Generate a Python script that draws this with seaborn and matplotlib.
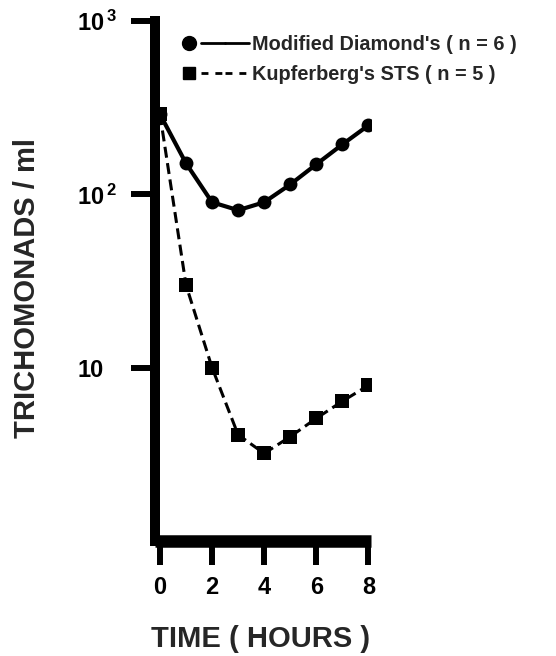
import numpy as np
import pandas as pd
import seaborn as sns
import matplotlib.pyplot as plt
from matplotlib.lines import Line2D
from matplotlib.legend_handler import HandlerTuple

hours = [0, 1, 2, 3, 4, 5, 6, 7, 8]
diamond = [290, 151, 90, 81, 90, 114, 149, 194, 250]
kupferberg = [290, 30, 10, 4.1, 3.2, 4.0, 5.1, 6.4, 7.9]
names = ["Modified Diamond's ( n = 6 )", "Kupferberg's STS ( n = 5 )"]
yticks = [10, 100, 1000]
yticklabels = ["10", r"$\mathbf{10^{\,2}}$", r"$\mathbf{10^{\,3}}$"]
xticks = [0, 2, 4, 6, 8]

sns.set_theme(style="ticks")
plt.rcParams["font.family"] = ["Liberation Sans", "DejaVu Sans"]
plt.rcParams["font.weight"] = "bold"
plt.rcParams["mathtext.fontset"] = "custom"
plt.rcParams["mathtext.bf"] = "Liberation Sans:bold"
plt.rcParams["mathtext.rm"] = "Liberation Sans:bold"

df_d = pd.DataFrame({"time": hours, "count": diamond})
df_k = pd.DataFrame({"time": hours, "count": kupferberg})

fig = plt.figure(figsize=(5.56, 6.56), dpi=100)
ax = fig.add_axes([155 / 556, (656 - 541) / 656, 216 / 556, 520 / 656])

sns.lineplot(data=df_k, x="time", y="count", ax=ax, color="black",
             marker="s", markersize=9.5, linewidth=2.2, linestyle=(0, (3.6, 1.8)),
             markeredgewidth=0, legend=False)
sns.lineplot(data=df_d, x="time", y="count", ax=ax, color="black",
             marker="o", markersize=10, linewidth=3, markeredgewidth=0,
             legend=False)

ax.set_yscale("log")
ax.set_ylim(1, 1000)
ax.set_xlim(-0.19, 8.1)
ax.set_yticks(yticks)
ax.set_yticklabels(yticklabels)
ax.minorticks_off()
ax.set_xticks(xticks)
ax.set_xticklabels([str(t) for t in xticks])

sns.despine(ax=ax)
ax.spines["left"].set_linewidth(7.2)
ax.spines["left"].set_capstyle("projecting")
ax.spines["bottom"].set_linewidth(9)
ax.spines["bottom"].set_capstyle("butt")
for s in ("left", "bottom"):
    ax.spines[s].set_color("black")
ax.tick_params(axis="both", length=17, width=4.3, color="black",
               labelsize=17, labelcolor="black")
ax.tick_params(axis="x", pad=8)
ax.tick_params(axis="y", pad=39)
for lab in ax.get_xticklabels() + ax.get_yticklabels():
    lab.set_fontweight("bold")
for lab in ax.get_yticklabels():
    lab.set_ha("left")

ax.set_xlabel("TIME ( HOURS )", fontsize=21, fontweight="bold")
ax.set_ylabel("TRICHOMONADS / ml", fontsize=21, fontweight="bold")
ax.yaxis.set_label_coords(27 / 556, 1 - 288 / 656, transform=fig.transFigure)
ax.xaxis.set_label_coords(261 / 556, 1 - 639 / 656, transform=fig.transFigure)
ax.xaxis.label.set_va("center")
ax.yaxis.label.set_va("center")

h1 = (Line2D([], [], color="black", marker="o", markersize=10, linestyle="none"),
      Line2D([], [], color="black", linewidth=2),
      Line2D([], [], color="black", linewidth=2))
h2 = (Line2D([], [], color="black", marker="s", markersize=9, linestyle="none"),
      Line2D([], [], color="black", linewidth=2, linestyle=(0, (2.5, 2.5))),
      Line2D([], [], color="black", linewidth=2, linestyle=(0, (2.5, 2.5))))
fig.legend([h1, h2], names, loc="upper left", bbox_to_anchor=(177 / 556, 1 - 35 / 656),
           frameon=False, handler_map={tuple: HandlerTuple(ndivide=None, pad=0)},
           handlelength=3.6, handletextpad=0.2, labelspacing=0.55,
           prop={"family": "Liberation Sans", "weight": "bold", "size": 14.3},
           borderpad=0, borderaxespad=0)

fig.savefig("out.png", dpi=100)
